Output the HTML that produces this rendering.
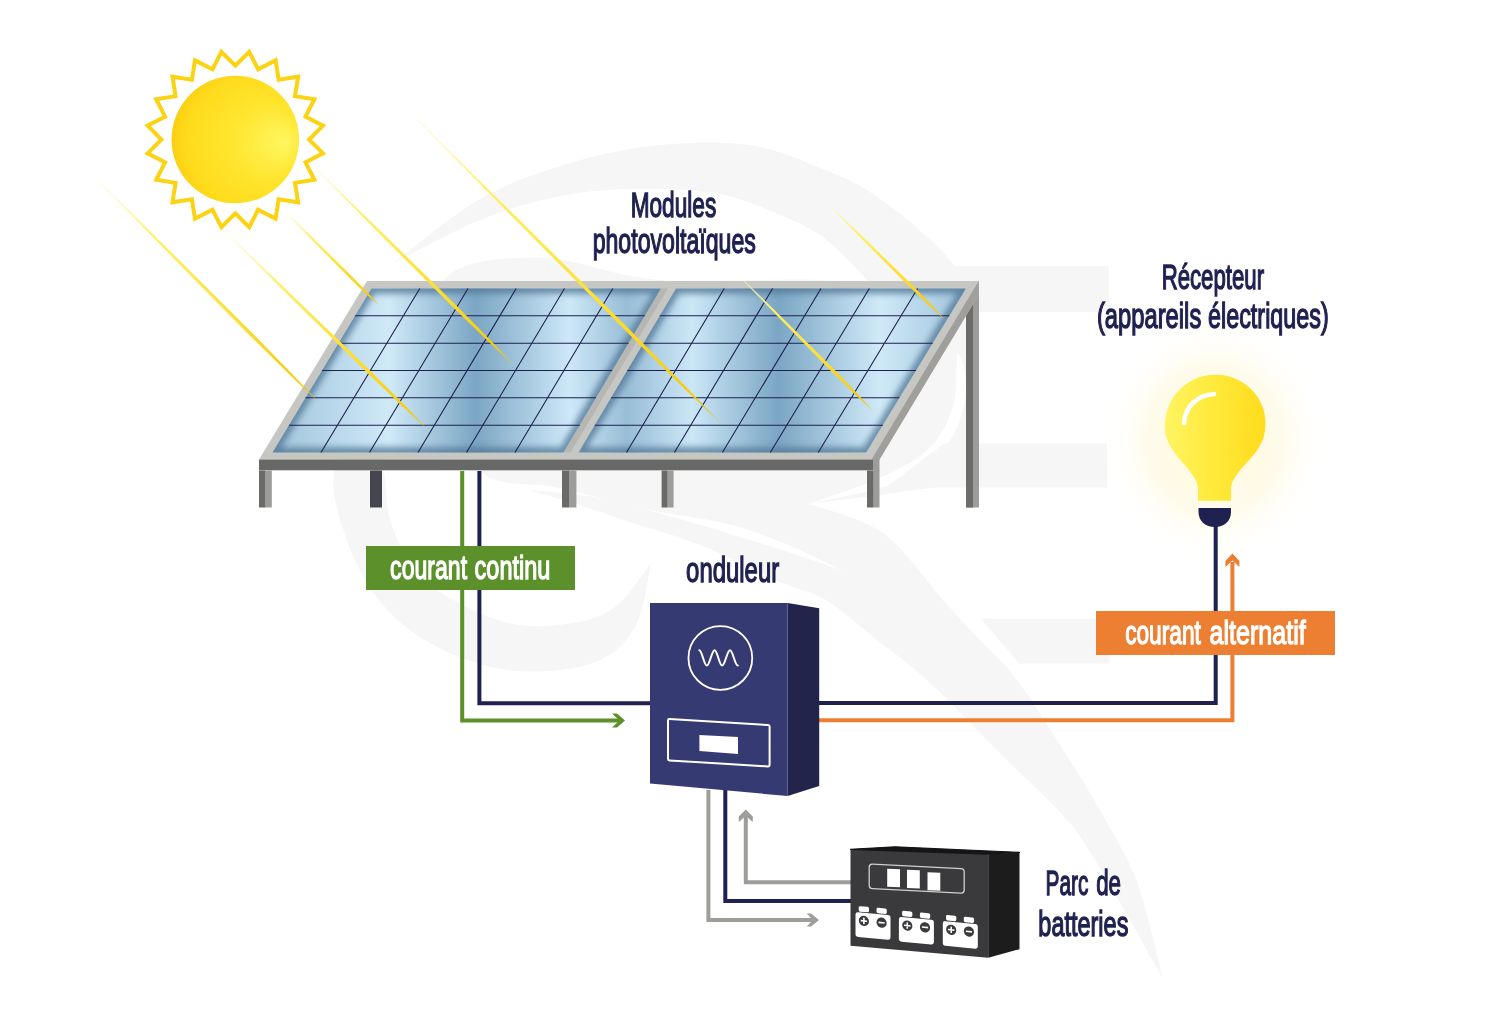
<!DOCTYPE html>
<html><head><meta charset="utf-8"><style>
html,body{margin:0;padding:0;background:#fff;width:1500px;height:1017px;overflow:hidden}
svg{display:block}
text{opacity:0.999}
</style></head><body>
<svg width="1500" height="1017" viewBox="0 0 1500 1017">
<rect width="1500" height="1017" fill="#fff"/>

<defs>
 <radialGradient id="sunG" cx="0.6" cy="0.52" r="0.62" fx="0.9" fy="0.52">
  <stop offset="0" stop-color="#fff660"/>
  <stop offset="0.45" stop-color="#ffe630"/>
  <stop offset="0.85" stop-color="#fedb1c"/>
  <stop offset="1" stop-color="#fbcd10"/>
 </radialGradient>
 <linearGradient id="bulbG" x1="0" y1="0" x2="1" y2="0">
  <stop offset="0" stop-color="#fff462"/>
  <stop offset="0.5" stop-color="#ffe93a"/>
  <stop offset="1" stop-color="#ffdb1c"/>
 </linearGradient>
 <radialGradient id="glowG" cx="0.5" cy="0.5" r="0.5">
  <stop offset="0" stop-color="#fff4b8" stop-opacity="0.65"/>
  <stop offset="0.6" stop-color="#fff6d0" stop-opacity="0.4"/>
  <stop offset="1" stop-color="#ffffff" stop-opacity="0"/>
 </radialGradient>
 <linearGradient id="panelG" gradientUnits="userSpaceOnUse" x1="260" y1="0" x2="980" y2="0">
  <stop offset="0" stop-color="#9cc0d8"/>
  <stop offset="0.18" stop-color="#cfe9f7"/>
  <stop offset="0.30" stop-color="#7ba6c4"/>
  <stop offset="0.43" stop-color="#cde8f7"/>
  <stop offset="0.51" stop-color="#98bdd6"/>
  <stop offset="0.6" stop-color="#cbe7f6"/>
  <stop offset="0.72" stop-color="#7ba6c4"/>
  <stop offset="0.86" stop-color="#cfe9f7"/>
  <stop offset="1" stop-color="#98bdd6"/>
 </linearGradient>
 <linearGradient id="rayG" x1="0" y1="0" x2="1" y2="0">
  <stop offset="0" stop-color="#fffbd8" stop-opacity="0.6"/>
  <stop offset="0.25" stop-color="#fff06a"/>
  <stop offset="0.6" stop-color="#fde036"/>
  <stop offset="1" stop-color="#f5c300"/>
 </linearGradient>
 <filter id="blur3" x="-10%" y="-10%" width="120%" height="120%"><feGaussianBlur stdDeviation="3"/></filter>
</defs>

<g fill="#f6f6f6">
<path d="M393.0,263.5C407.5,252.8 450.5,215.8 480.0,199.0C509.5,182.2 540.0,172.0 570.0,163.0C600.0,154.0 630.0,148.0 660.0,145.0C690.0,142.0 723.3,141.2 750.0,145.0C776.7,148.8 800.0,160.2 820.0,168.0C840.0,175.8 852.5,180.8 870.0,192.0C887.5,203.2 909.3,220.3 925.0,235.0C940.7,249.7 955.5,264.2 964.0,280.0C972.5,295.8 973.5,311.7 976.0,330.0C978.5,348.3 979.2,371.1 979.0,390.0C978.8,408.9 978.2,428.5 975.0,443.5C971.8,458.5 972.5,471.9 960.0,480.0C947.5,488.1 925.2,488.0 900.0,492.0C874.8,496.0 823.9,501.8 808.7,503.8C822.2,500.7 869.0,492.6 890.0,485.0C911.0,477.4 923.7,468.0 935.0,458.0C946.3,448.0 952.8,437.2 958.0,425.0C963.2,412.8 966.5,397.5 966.0,385.0C965.5,372.5 964.3,359.2 955.0,350.0C945.7,340.8 922.5,339.2 910.0,330.0C897.5,320.8 890.0,306.3 880.0,295.0C870.0,283.7 860.0,272.0 850.0,262.0C840.0,252.0 832.0,243.0 820.0,235.0C808.0,227.0 794.7,220.8 778.0,214.0C761.3,207.2 743.0,198.2 720.0,194.0C697.0,189.8 666.7,188.7 640.0,189.0C613.3,189.3 586.7,190.8 560.0,196.0C533.3,201.2 507.8,208.8 480.0,220.0C452.2,231.2 407.5,256.2 393.0,263.5Z"/>
<rect x="950" y="266" width="159" height="46"/>
<polygon points="944,443.5 1107,443.5 1107,487.5 886,487.5"/>
<polygon points="980.5,618.5 1109.5,618.5 1109.5,663.5 1019.5,663.5"/>
<path d="M444.0,280.0C460.7,259.6 504.0,257.5 540.0,257.5C576.0,257.5 608.3,275.9 660.0,280.0C711.7,284.1 802.5,275.3 850.0,282.0C897.5,288.7 927.3,303.7 945.0,320.0C962.7,336.3 955.5,363.3 956.0,380.0C956.5,396.7 953.2,408.0 948.0,420.0C942.8,432.0 936.3,442.3 925.0,452.0C913.7,461.7 899.4,469.4 880.0,478.0C860.6,486.6 820.6,499.5 808.7,503.8C821.1,508.7 860.6,517.0 883.0,533.0C905.4,549.0 926.8,582.2 943.0,600.0C959.2,617.8 967.7,626.7 980.0,640.0C992.3,653.3 1002.2,660.2 1017.0,680.0C1031.8,699.8 1054.1,735.3 1069.0,759.0C1083.9,782.7 1095.1,801.1 1106.6,822.0C1118.1,842.9 1128.6,858.4 1138.0,884.6C1147.4,910.8 1158.8,963.3 1163.0,979.0C1150.8,957.8 1117.2,894.8 1090.0,852.0C1062.8,809.2 1030.5,762.0 1000.0,722.0C969.5,682.0 933.9,637.7 906.7,612.0C879.5,586.3 864.0,582.0 836.7,568.0C809.4,554.0 774.1,537.7 743.0,528.0C711.9,518.3 680.5,516.7 650.0,510.0C619.5,503.3 588.3,494.5 560.0,488.0C531.7,481.5 500.0,489.0 480.0,471.0C460.0,453.0 446.0,411.8 440.0,380.0C434.0,348.2 427.3,300.4 444.0,280.0Z"/>
<path d="M528.0,490.0C540.0,491.3 573.0,492.7 600.0,498.0C627.0,503.3 665.0,515.0 690.0,522.0C715.0,529.0 731.7,534.3 750.0,540.0C768.3,545.7 783.3,550.3 800.0,556.0C816.7,561.7 834.2,567.0 850.0,574.0C865.8,581.0 882.5,589.5 895.0,598.0C907.5,606.5 905.8,605.5 925.0,625.0C944.2,644.5 980.8,677.5 1010.0,715.0C1039.2,752.5 1074.5,806.0 1100.0,850.0C1125.5,894.0 1152.5,957.5 1163.0,979.0C1155.2,963.3 1131.7,910.8 1116.0,884.6C1100.3,858.4 1087.3,842.9 1069.0,822.0C1050.7,801.1 1029.7,782.7 1006.0,759.0C982.3,735.3 948.5,699.8 927.0,680.0C905.5,660.2 893.8,653.3 877.0,640.0C860.2,626.7 842.2,609.7 826.0,600.0C809.8,590.3 801.0,591.2 780.0,582.0C759.0,572.8 725.0,555.0 700.0,545.0C675.0,535.0 651.7,529.2 630.0,522.0C608.3,514.8 587.0,507.3 570.0,502.0C553.0,496.7 535.0,492.0 528.0,490.0Z"/>
<path d="M334.5,471.0C330.3,490.2 338.2,514.3 345.0,535.0C351.8,555.7 362.5,578.0 375.0,595.0C387.5,612.0 402.5,625.5 420.0,637.0C437.5,648.5 460.0,658.2 480.0,664.0C500.0,669.8 520.0,672.2 540.0,671.5C560.0,670.8 584.0,667.8 600.0,660.0C616.0,652.2 627.5,641.1 636.0,625.0C644.5,608.9 648.5,573.8 651.0,563.5C645.0,570.8 628.5,597.0 615.0,607.0C601.5,617.0 587.5,620.8 570.0,623.5C552.5,626.2 530.0,627.8 510.0,623.5C490.0,619.2 466.0,607.2 450.0,598.0C434.0,588.8 424.0,581.0 414.0,568.0C404.0,555.0 395.0,536.2 390.0,520.0C385.0,503.8 387.3,487.7 384.0,471.0C380.7,454.3 378.2,420.0 370.0,420.0C361.8,420.0 338.7,451.8 334.5,471.0Z"/>
</g>
<polygon points="249.2,51.8 258.1,69.3 275.6,60.4 278.7,79.8 298.1,76.7 295.0,96.1 314.4,99.2 305.5,116.7 323.0,125.6 309.1,139.5 323.0,153.4 305.5,162.3 314.4,179.8 295.0,182.9 298.1,202.3 278.7,199.2 275.6,218.6 258.1,209.7 249.2,227.2 235.3,213.3 221.4,227.2 212.5,209.7 195.0,218.6 191.9,199.2 172.5,202.3 175.6,182.9 156.2,179.8 165.1,162.3 147.6,153.4 161.5,139.5 147.6,125.6 165.1,116.7 156.2,99.2 175.6,96.1 172.5,76.7 191.9,79.8 195.0,60.4 212.5,69.3 221.4,51.8 235.3,65.7" fill="none" stroke="#fbd313" stroke-width="4" stroke-linejoin="miter"/>
<circle cx="235.3" cy="139.5" r="63.75" fill="url(#sunG)"/>
<rect x="966" y="281" width="13" height="226.5" fill="#9c9c9a"/>
<rect x="966" y="281" width="7" height="226.5" fill="#6c6c6a"/>
<polygon points="367,281 978.7,281 978.7,294.7 879.5,459.5 259,459.5" fill="#c6c6c2"/>
<polygon points="978.7,281 978.7,294.7 879.5,459.5 871.5,459.5" fill="#a09f9c"/>
<polygon points="661,288.5 668,288.5 570.5,452.5 563.5,452.5" fill="#b6b6b3"/>
<rect x="259" y="459.5" width="614.6" height="10.8" fill="#686866"/>
<rect x="265.5" y="470.5" width="6.3" height="37" fill="#9c9c9a"/>
<rect x="259" y="470.5" width="6.5" height="37" fill="#6a6a68"/>
<rect x="370" y="470.5" width="12.0" height="37" fill="#45454f"/>
<rect x="569.5" y="470.5" width="6.9" height="37" fill="#9c9c9a"/>
<rect x="562" y="470.5" width="7.5" height="37" fill="#6a6a68"/>
<rect x="667.6" y="470.5" width="6.0" height="37" fill="#9c9c9a"/>
<rect x="661.6" y="470.5" width="6.0" height="37" fill="#6a6a68"/>
<rect x="873.6" y="470.5" width="5.9" height="37" fill="#9c9c9a"/>
<rect x="867" y="470.5" width="6.6" height="37" fill="#6a6a68"/>
<rect x="873.6" y="459" width="5.9" height="12" fill="#9c9c9a"/>
<clipPath id="pc0"><polygon points="371.5,288.5 661,288.5 563.5,452.5 272.5,452.5"/></clipPath>
<polygon points="371.5,288.5 661,288.5 563.5,452.5 272.5,452.5" fill="url(#panelG)"/>
<g clip-path="url(#pc0)"><polygon points="371.5,288.5 661,288.5 563.5,452.5 272.5,452.5" fill="none" stroke="#557a9a" stroke-width="10" stroke-linejoin="round" filter="url(#blur3)" opacity="0.85"/></g>
<path d="M355.0,315.8H644.8M419.8,288.5L321.0,452.5M338.5,343.2H628.5M468.0,288.5L369.5,452.5M322.0,370.5H612.2M516.2,288.5L418.0,452.5M305.5,397.8H596.0M564.5,288.5L466.5,452.5M289.0,425.2H579.8M612.8,288.5L515.0,452.5" stroke="#1f2150" stroke-width="1.1" fill="none"/>
<clipPath id="pc1"><polygon points="676,288.5 965.9,288.5 866.2,452.5 578.5,452.5"/></clipPath>
<polygon points="676,288.5 965.9,288.5 866.2,452.5 578.5,452.5" fill="url(#panelG)"/>
<g clip-path="url(#pc1)"><polygon points="676,288.5 965.9,288.5 866.2,452.5 578.5,452.5" fill="none" stroke="#557a9a" stroke-width="10" stroke-linejoin="round" filter="url(#blur3)" opacity="0.85"/></g>
<path d="M659.8,315.8H949.3M724.3,288.5L626.5,452.5M643.5,343.2H932.7M772.6,288.5L674.4,452.5M627.2,370.5H916.0M821.0,288.5L722.4,452.5M611.0,397.8H899.4M869.3,288.5L770.3,452.5M594.8,425.2H882.8M917.6,288.5L818.2,452.5" stroke="#1f2150" stroke-width="1.1" fill="none"/>
<g transform="translate(95,177.5) rotate(45.13)"><polygon points="0.0,-0.20 38.1,-0.70 111.1,-1.27 222.2,-1.70 279.4,-1.10 317.5,0.00 317.5,0.00 279.4,1.10 222.2,1.70 111.1,1.27 38.1,0.70 0.0,0.20" fill="url(#rayG)"/></g>
<g transform="translate(223.7,230.3) rotate(44.29)"><polygon points="0.0,-0.20 34.2,-0.70 99.7,-1.35 199.4,-1.80 250.7,-1.17 284.8,0.00 284.8,0.00 250.7,1.17 199.4,1.80 99.7,1.35 34.2,0.70 0.0,0.20" fill="url(#rayG)"/></g>
<g transform="translate(285.5,212) rotate(44.97)"><polygon points="0.0,-0.20 15.9,-0.70 46.3,-1.12 92.6,-1.50 116.4,-0.98 132.3,0.00 132.3,0.00 116.4,0.98 92.6,1.50 46.3,1.12 15.9,0.70 0.0,0.20" fill="url(#rayG)"/></g>
<g transform="translate(310.6,163.5) rotate(44.76)"><polygon points="0.0,-0.20 34.5,-0.70 100.5,-1.35 201.0,-1.80 252.7,-1.17 287.2,0.00 287.2,0.00 252.7,1.17 201.0,1.80 100.5,1.35 34.5,0.70 0.0,0.20" fill="url(#rayG)"/></g>
<g transform="translate(407.5,110) rotate(45.01)"><polygon points="0.0,-0.20 53.3,-0.70 155.5,-1.42 311.1,-1.90 391.1,-1.23 444.4,0.00 444.4,0.00 391.1,1.23 311.1,1.90 155.5,1.42 53.3,0.70 0.0,0.20" fill="url(#rayG)"/></g>
<g transform="translate(737.6,274.3) rotate(45.27)"><polygon points="0.0,-0.20 23.1,-0.70 67.3,-1.27 134.7,-1.70 169.3,-1.10 192.4,0.00 192.4,0.00 169.3,1.10 134.7,1.70 67.3,1.27 23.1,0.70 0.0,0.20" fill="url(#rayG)"/></g>
<g transform="translate(826.6,202.6) rotate(44.68)"><polygon points="0.0,-0.20 19.9,-0.70 58.1,-1.20 116.3,-1.60 146.2,-1.04 166.1,0.00 166.1,0.00 146.2,1.04 116.3,1.60 58.1,1.20 19.9,0.70 0.0,0.20" fill="url(#rayG)"/></g>
<ellipse cx="1215" cy="440" rx="115" ry="125" fill="url(#glowG)"/>
<path d="M462.2,471 V720.4 H620" stroke="#5b902b" stroke-width="4" fill="none"/>
<polygon points="612,713.5 617,713.5 625,720.4 617,727.5 612,727.5 619.5,720.4" fill="#5b902b"/>
<path d="M479.4,471 V703.3 H655" stroke="#1f2150" stroke-width="4" fill="none"/>
<path d="M815,703 H1215.7 V520" stroke="#1f2150" stroke-width="4" fill="none"/>
<path d="M815,720.2 H1232.4 V562" stroke="#ec7f31" stroke-width="4" fill="none"/>
<polygon points="1232.4,553.5 1239.4,561 1239.4,567 1232.4,560.5 1225.4,567 1225.4,561" fill="#ec7f31"/>
<path d="M708.4,790 V920 H815" stroke="#9d9d99" stroke-width="4" fill="none"/>
<polygon points="806.7,913.5 811,913.5 819,920 811,926.5 806.7,926.5 813,920" fill="#9d9d99"/>
<path d="M725.3,790 V901 H855" stroke="#1f2150" stroke-width="4" fill="none"/>
<path d="M855,882.3 H745.8 V815" stroke="#9d9d99" stroke-width="4" fill="none"/>
<polygon points="745.8,809.5 752.8,816.5 752.8,822 745.8,816 738.8,822 738.8,816.5" fill="#9d9d99"/>
<rect x="366" y="546" width="209" height="44" fill="#5b902b"/>
<rect x="1096" y="611" width="239" height="44" fill="#ec7f31"/>
<text x="390.12" y="579.2" font-family='"Liberation Sans", sans-serif' font-size="34" fill="#ffffff" stroke="#ffffff" stroke-width="1.4" textLength="76.98" lengthAdjust="spacingAndGlyphs">courant</text>
<text x="474.61" y="579.2" font-family='"Liberation Sans", sans-serif' font-size="34" fill="#ffffff" stroke="#ffffff" stroke-width="1.4" textLength="75.72" lengthAdjust="spacingAndGlyphs">continu</text>
<text x="1125.13" y="644.2" font-family='"Liberation Sans", sans-serif' font-size="34" fill="#ffffff" stroke="#ffffff" stroke-width="1.4" textLength="75.77" lengthAdjust="spacingAndGlyphs">courant</text>
<text x="1209.56" y="644.2" font-family='"Liberation Sans", sans-serif' font-size="34" fill="#ffffff" stroke="#ffffff" stroke-width="1.4" textLength="96.20" lengthAdjust="spacingAndGlyphs">alternatif</text>
<text x="630.71" y="216.7" font-family='"Liberation Sans", sans-serif' font-size="35" fill="#1f2150" stroke="#1f2150" stroke-width="1.4" textLength="85.48" lengthAdjust="spacingAndGlyphs">Modules</text>
<text x="592.68" y="252.7" font-family='"Liberation Sans", sans-serif' font-size="35" fill="#1f2150" stroke="#1f2150" stroke-width="1.4" textLength="163.11" lengthAdjust="spacingAndGlyphs">photovoltaïques</text>
<text x="1161.63" y="289" font-family='"Liberation Sans", sans-serif' font-size="35" fill="#1f2150" stroke="#1f2150" stroke-width="1.4" textLength="102.43" lengthAdjust="spacingAndGlyphs">Récepteur</text>
<text x="1096.94" y="328.3" font-family='"Liberation Sans", sans-serif' font-size="35" fill="#1f2150" stroke="#1f2150" stroke-width="1.4" textLength="104.33" lengthAdjust="spacingAndGlyphs">(appareils</text>
<text x="1208.03" y="328.3" font-family='"Liberation Sans", sans-serif' font-size="35" fill="#1f2150" stroke="#1f2150" stroke-width="1.4" textLength="120.75" lengthAdjust="spacingAndGlyphs">électriques)</text>
<text x="686.12" y="581.8" font-family='"Liberation Sans", sans-serif' font-size="35" fill="#1f2150" stroke="#1f2150" stroke-width="1.4" textLength="93.04" lengthAdjust="spacingAndGlyphs">onduleur</text>
<text x="1045.61" y="895" font-family='"Liberation Sans", sans-serif' font-size="35" fill="#1f2150" stroke="#1f2150" stroke-width="1.4" textLength="42.77" lengthAdjust="spacingAndGlyphs">Parc</text>
<text x="1096.16" y="895" font-family='"Liberation Sans", sans-serif' font-size="35" fill="#1f2150" stroke="#1f2150" stroke-width="1.4" textLength="24.84" lengthAdjust="spacingAndGlyphs">de</text>
<text x="1038.36" y="935.9" font-family='"Liberation Sans", sans-serif' font-size="35" fill="#1f2150" stroke="#1f2150" stroke-width="1.4" textLength="90.01" lengthAdjust="spacingAndGlyphs">batteries</text>
<polygon points="787.6,603 819.2,608.2 819.2,786 787.6,796" fill="#22244b"/>
<polygon points="650,603 787.6,603 787.6,796 650,783.6" fill="#363a73"/>
<circle cx="720.35" cy="657.95" r="31.9" fill="none" stroke="#fff" stroke-width="1.8"/>
<path d="M699.3,650.3C702.00,650.3 704.10,665.6 706.8,665.6C709.61,665.6 711.79,650.3 714.6,650.3C717.30,650.3 719.40,665.6 722.1,665.6C724.94,665.6 727.16,650.3 730,650.3C732.81,650.3 734.99,665.6 737.8,665.6" fill="none" stroke="#fff" stroke-width="2" stroke-linecap="round"/>
<g transform="translate(668,719) skewY(3.49)"><rect x="0" y="0" width="101.6" height="41.3" rx="1.5" fill="none" stroke="#fff" stroke-width="2"/></g>
<polygon points="699.4,735 738,737 738,754 699.4,751" fill="#fff"/>
<polygon points="988.2,854.2 1019.5,852.3 1019.5,949.2 988.2,957.8" fill="#1c1c1c"/>
<polygon points="850.5,849.3 895,847 988.2,854.2 988.2,957.8 850.5,945.7" fill="#3a393b"/>
<polygon points="850.5,849.3 895,846.8 1019.5,852.3 988.2,854.2" fill="#151515" stroke="#151515" stroke-width="1.2" stroke-linejoin="round"/>
<g transform="translate(869.2,864) skewY(2.83)"><rect x="0" y="0" width="95" height="24.5" rx="3.2" fill="none" stroke="#cfcfcf" stroke-width="1.3"/></g>
<polygon points="887.2,868.7 900.0,869.2 900.0,887.3000000000001 887.2,886.8000000000001" fill="#fff"/>
<polygon points="907,869.8 919.8,870.3 919.8,888.4 907,887.9" fill="#fff"/>
<polygon points="927.5,872.2 940.3,872.7 940.3,890.8000000000001 927.5,890.3000000000001" fill="#fff"/>
<g transform="translate(855.5,912) skewY(5.4)">
<rect x="0" y="0" width="35" height="24.7" rx="2.6" fill="#fff"/>
<rect x="3.2" y="-6.3" width="10.3" height="5.5" rx="1.6" fill="#fff"/>
<rect x="21" y="-6.3" width="10.3" height="5.5" rx="1.6" fill="#fff"/>
<circle cx="8.4" cy="8.1" r="5.1" fill="#3a393b"/>
<circle cx="26.1" cy="8.2" r="5.1" fill="#3a393b"/>
<path d="M5.2,8.1h6.4M8.4,4.9v6.4M23,8.2h6.2" stroke="#fff" stroke-width="1.6"/>
</g>
<g transform="translate(898.9,916.7) skewY(5.4)">
<rect x="0" y="0" width="35" height="24.7" rx="2.6" fill="#fff"/>
<rect x="3.2" y="-6.3" width="10.3" height="5.5" rx="1.6" fill="#fff"/>
<rect x="21" y="-6.3" width="10.3" height="5.5" rx="1.6" fill="#fff"/>
<circle cx="8.4" cy="8.1" r="5.1" fill="#3a393b"/>
<circle cx="26.1" cy="8.2" r="5.1" fill="#3a393b"/>
<path d="M5.2,8.1h6.4M8.4,4.9v6.4M23,8.2h6.2" stroke="#fff" stroke-width="1.6"/>
</g>
<g transform="translate(942.8,920.9) skewY(5.4)">
<rect x="0" y="0" width="35" height="24.7" rx="2.6" fill="#fff"/>
<rect x="3.2" y="-6.3" width="10.3" height="5.5" rx="1.6" fill="#fff"/>
<rect x="21" y="-6.3" width="10.3" height="5.5" rx="1.6" fill="#fff"/>
<circle cx="8.4" cy="8.1" r="5.1" fill="#3a393b"/>
<circle cx="26.1" cy="8.2" r="5.1" fill="#3a393b"/>
<path d="M5.2,8.1h6.4M8.4,4.9v6.4M23,8.2h6.2" stroke="#fff" stroke-width="1.6"/>
</g>
<path d="M1198,500.7 L1198,488 C1196,470 1172,458 1166,436 C1160,405 1182,374.8 1215.4,374.8 C1249,374.8 1272,405 1264,436 C1258,458 1233,470 1231,488 L1231,500.7 Z" fill="url(#bulbG)"/>
<path d="M1184,423 C1185,406 1198,395 1214,394" stroke="#fff" stroke-width="4.5" stroke-linecap="round" fill="none"/>
<path d="M1198.5,508 H1231 V512 C1231,521 1224,527 1214.8,527 C1205.5,527 1198.5,521 1198.5,512 Z" fill="#1f2150"/>
</svg></body></html>
